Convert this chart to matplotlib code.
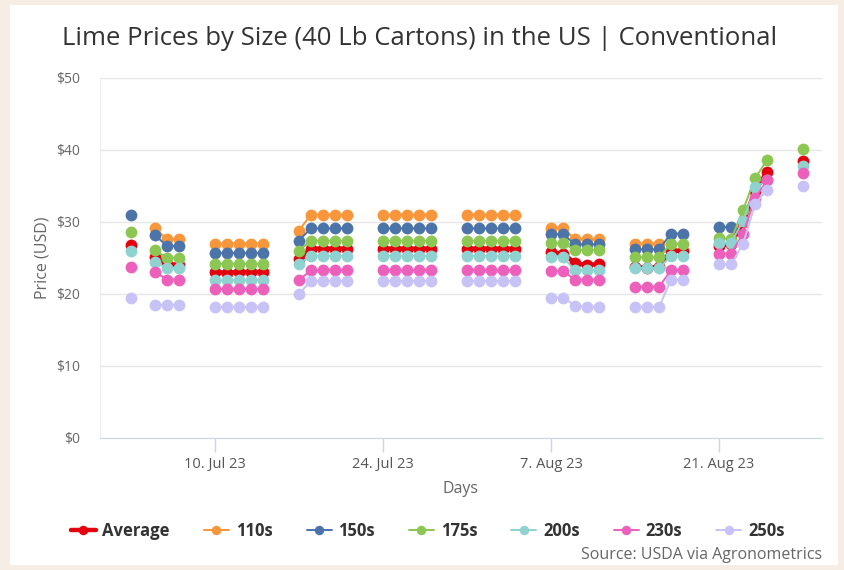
import numpy as np
import matplotlib.pyplot as plt
from matplotlib.patches import Rectangle
from datetime import datetime, timedelta

plt.rcParams['font.family'] = ['Open Sans', 'DejaVu Sans']

# trading days (40 lb cartons, USDA)
days = [
    '2023-07-03', '2023-07-05', '2023-07-06', '2023-07-07',
    '2023-07-10', '2023-07-11', '2023-07-12', '2023-07-13', '2023-07-14',
    '2023-07-17', '2023-07-18', '2023-07-19', '2023-07-20', '2023-07-21',
    '2023-07-24', '2023-07-25', '2023-07-26', '2023-07-27', '2023-07-28',
    '2023-07-31', '2023-08-01', '2023-08-02', '2023-08-03', '2023-08-04',
    '2023-08-07', '2023-08-08', '2023-08-09', '2023-08-10', '2023-08-11',
    '2023-08-14', '2023-08-15', '2023-08-16', '2023-08-17', '2023-08-18',
    '2023-08-21', '2023-08-22', '2023-08-23', '2023-08-24', '2023-08-25',
    '2023-08-28',
]

nan = np.nan
average = [26.8, 25.2, 24.2, 24.0,
           23.1, 22.9, 23.1, 23.0, 23.1,
           24.8, 26.3, 26.3, 26.3, 26.3,
           26.3, 26.3, 26.3, 26.3, 26.3,
           26.3, 26.3, 26.3, 26.3, 26.3,
           25.8, 25.6, 24.3, 24.0, 24.2,
           23.8, 23.6, 23.8, 26.0, 26.0,
           26.7, 27.0, 30.0, 34.3, 37.0,
           38.5]
s110 = [nan, 29.2, 27.6, 27.6,
        27.0, 27.0, 27.0, 27.0, 27.0,
        28.8, 31.0, 31.0, 31.0, 31.0,
        31.0, 31.0, 31.0, 31.0, 31.0,
        31.0, 31.0, 31.0, 31.0, 31.0,
        29.2, 29.2, 27.6, 27.6, 27.6,
        27.0, 27.0, 27.0, nan, nan,
        nan, nan, nan, nan, nan,
        nan]
s150 = [31.0, 28.2, 26.7, 26.7,
        25.7, 25.7, 25.7, 25.7, 25.7,
        27.4, 29.1, 29.1, 29.1, 29.1,
        29.1, 29.1, 29.1, 29.1, 29.1,
        29.1, 29.1, 29.1, 29.1, 29.1,
        28.3, 28.3, 26.9, 26.9, 26.9,
        26.2, 26.2, 26.2, 28.4, 28.4,
        29.3, 29.3, nan, nan, nan,
        nan]
s175 = [28.6, 26.1, 25.0, 25.0,
        24.2, 24.2, 24.2, 24.2, 24.2,
        26.0, 27.4, 27.4, 27.4, 27.4,
        27.4, 27.4, 27.4, 27.4, 27.4,
        27.4, 27.4, 27.4, 27.4, 27.4,
        27.1, 27.1, 26.1, 26.1, 26.1,
        25.1, 25.1, 25.1, 27.0, 27.0,
        27.8, 27.6, 31.7, 36.1, 38.6,
        40.1]
s200 = [26.0, 24.5, 23.6, 23.6,
        21.9, 21.9, 21.9, 21.9, 21.9,
        24.2, 25.3, 25.3, 25.3, 25.3,
        25.3, 25.3, 25.3, 25.3, 25.3,
        25.3, 25.3, 25.3, 25.3, 25.3,
        25.1, 25.1, 23.3, 23.3, 23.3,
        23.6, 23.6, 23.6, 25.3, 25.3,
        27.1, 27.1, 30.2, 34.8, 35.8,
        37.8]
s230 = [23.7, 23.1, 22.0, 22.0,
        20.7, 20.7, 20.7, 20.7, 20.7,
        21.9, 23.3, 23.3, 23.3, 23.3,
        23.3, 23.3, 23.3, 23.3, 23.3,
        23.3, 23.3, 23.3, 23.3, 23.3,
        23.2, 23.2, 22.0, 22.0, 22.0,
        21.0, 21.0, 21.0, 23.3, 23.3,
        25.6, 25.6, 28.4, 33.3, 35.8,
        36.8]
s250 = [19.5, 18.5, 18.5, 18.5,
        18.2, 18.2, 18.2, 18.2, 18.2,
        20.0, 21.8, 21.8, 21.8, 21.8,
        21.8, 21.8, 21.8, 21.8, 21.8,
        21.8, 21.8, 21.8, 21.8, 21.8,
        19.5, 19.5, 18.4, 18.2, 18.2,
        18.2, 18.2, 18.2, 22.0, 22.0,
        24.1, 24.1, 27.0, 32.5, 34.5,
        35.0]

series_names = ['Average', '110s', '150s', '175s', '200s', '230s', '250s']
series_values = [average, s110, s150, s175, s200, s230, s250]
colors = ['#e3000f', '#f7963a', '#4c74a9', '#8cc653', '#8fd2d0', '#ec5fba', '#c8c3f6']

tick_dates = ['2023-07-10', '2023-07-24', '2023-08-07', '2023-08-21']
tick_labels = ['10. Jul 23', '24. Jul 23', '7. Aug 23', '21. Aug 23']
y_ticks = [0, 10, 20, 30, 40, 50]
y_labels = ['$0', '$10', '$20', '$30', '$40', '$50']


def with_breaks(dates, values):
    """ Put a gap wherever consecutive days are not adjacent (weekends, holidays). """
    xs, ys = [], []
    for i, (d, v) in enumerate(zip(dates, values)):
        if i > 0 and (d - dates[i - 1]).days > 1:
            xs.append(dates[i - 1] + timedelta(days=1))
            ys.append(np.nan)
        xs.append(d)
        ys.append(v)
    return xs, ys


dates = [datetime.fromisoformat(d) for d in days]

fig = plt.figure(figsize=(8.45, 5.7), dpi=100, facecolor='#f6ede5')
# white card behind everything
fig.patches.append(Rectangle((0.012, 0.008), 0.98, 0.984, transform=fig.transFigure,
                             facecolor='white', edgecolor='none', zorder=-10))

ax = fig.add_axes([0.118, 0.2316, 0.855, 0.6316])
ax.set_facecolor('white')

for name, vals, col in zip(series_names, series_values, colors):
    xs, ys = with_breaks(dates, vals)
    lw = 3.2 if name == 'Average' else 1.4
    ax.plot(xs, ys, color=col, lw=lw, marker='o', markersize=8.5,
            markeredgewidth=0, label=name, solid_capstyle='round')

ax.set_xlim(datetime(2023, 6, 30, 10), datetime(2023, 8, 29, 14))
ax.set_ylim(0, 50)
ax.set_xticks([datetime.fromisoformat(d) for d in tick_dates])
ax.set_xticklabels(tick_labels)
ax.set_yticks(y_ticks)
ax.set_yticklabels(y_labels)

ax.grid(axis='y', color='#e6e6e6', lw=1)
ax.set_axisbelow(True)
for side in ['top', 'right']:
    ax.spines[side].set_visible(False)
ax.spines['left'].set_color('#ececec')
ax.spines['bottom'].set_color('#ccd6eb')
ax.tick_params(axis='x', colors='#ccd6eb', length=10, width=1, labelcolor='#555555',
               labelsize=10.5, pad=4)
ax.tick_params(axis='y', length=0, labelcolor='#666666', labelsize=10, pad=14)

ax.set_xlabel('Days', color='#666666', fontsize=11.5, labelpad=6)
ax.set_ylabel('Price (USD)', color='#666666', fontsize=11.5, labelpad=4)

fig.text(0.497, 0.933, 'Lime Prices by Size (40 Lb Cartons) in the US | Conventional',
         ha='center', va='center', fontsize=18.5, color='#333333')

ax.legend(loc='center', bbox_to_anchor=(0.506, 0.068), bbox_transform=fig.transFigure,
          ncol=7, frameon=False, handlelength=1.5, handletextpad=0.4, columnspacing=2.05,
          markerscale=0.8, prop={'size': 12, 'weight': 'bold'}, labelcolor='#333333')

fig.text(0.973, 0.026, 'Source: USDA via Agronometrics', ha='right', va='center',
         fontsize=11.5, color='#666666')

fig.savefig('out.png', dpi=100, facecolor=fig.get_facecolor())
